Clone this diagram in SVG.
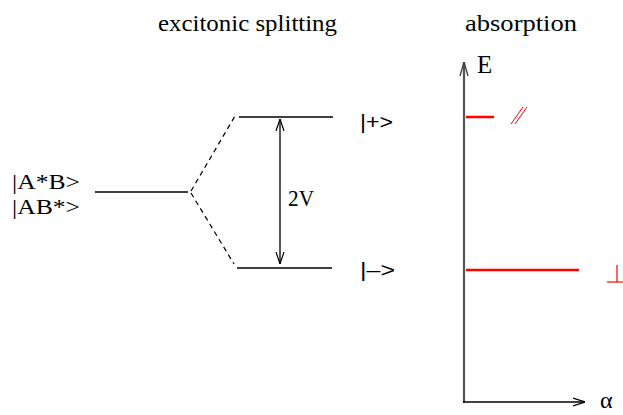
<svg xmlns="http://www.w3.org/2000/svg" width="623" height="415" viewBox="0 0 623 415">
<style>
.serif{font-family:"Liberation Serif","Times New Roman","DejaVu Serif",serif;fill:#000}
.sans{font-family:"Liberation Sans",Arial,"DejaVu Sans",sans-serif;fill:#000}
.lvl{stroke:#000;stroke-width:1.3;fill:none}
.dash{stroke:#000;stroke-width:1.2;stroke-dasharray:5 4;fill:none}
.red{stroke:#ff0000;fill:none}
</style>
<defs>
<marker id="vhead" viewBox="0 0 12 10" refX="12" refY="5" markerWidth="12" markerHeight="10" markerUnits="userSpaceOnUse" orient="auto-start-reverse">
<path d="M0,1 L12,5 L0,9" fill="none" stroke="#000" stroke-width="1.2"/>
</marker>
<marker id="ghead" viewBox="0 0 14 10" refX="14" refY="5" markerWidth="14" markerHeight="10" markerUnits="userSpaceOnUse" orient="auto">
<path d="M0,1 L14,5 L0,9" fill="none" stroke="#444" stroke-width="1.4"/>
</marker>
</defs>
<g id="titles">
<text class="serif" x="158" y="31" font-size="24" textLength="179" lengthAdjust="spacingAndGlyphs">excitonic splitting</text>
<text class="serif" x="465" y="31" font-size="24" textLength="112" lengthAdjust="spacingAndGlyphs">absorption</text>
</g>
<g id="ground">
<line class="lvl" x1="95" y1="192" x2="188" y2="192"/>
<text class="serif" x="12" y="189" font-size="22" textLength="68" lengthAdjust="spacingAndGlyphs">|A*B&gt;</text>
<text class="serif" x="12" y="214" font-size="22" textLength="68" lengthAdjust="spacingAndGlyphs">|AB*&gt;</text>
</g>
<g id="upper">
<line class="lvl" x1="239" y1="117" x2="333" y2="117"/>
<text class="sans" x="360" y="129" font-size="21" textLength="33" lengthAdjust="spacingAndGlyphs">|+&gt;</text>
</g>
<g id="lower">
<line class="lvl" x1="237" y1="268" x2="332" y2="268"/>
<text class="sans" x="360" y="277" font-size="21" textLength="35" lengthAdjust="spacingAndGlyphs">|–&gt;</text>
</g>
<g id="connectors">
<line class="dash" x1="191" y1="191" x2="235" y2="116"/>
<line class="dash" x1="191" y1="193" x2="234" y2="264"/>
<line x1="280" y1="119" x2="280" y2="264" stroke="#000" stroke-width="1.3" marker-start="url(#vhead)" marker-end="url(#vhead)"/>
</g>
<g id="splitting-label">
<text class="serif" x="288" y="206" font-size="23" textLength="26" lengthAdjust="spacingAndGlyphs">2V</text>
</g>
<g id="axes">
<line x1="464" y1="403" x2="464" y2="62" stroke="#555" stroke-width="2.2" marker-end="url(#ghead)"/>
<line x1="463" y1="402" x2="585" y2="402" stroke="#000" stroke-width="1.3" marker-end="url(#vhead)"/>
<text class="serif" x="477" y="73" font-size="25">E</text>
<text class="serif" x="600" y="408" font-size="24">α</text>
</g>
<g id="parallel">
<line class="red" x1="466" y1="117" x2="494" y2="117" stroke-width="2.5"/>
<line class="red" x1="511" y1="124" x2="523" y2="107" stroke-width="1"/>
<line class="red" x1="515" y1="124" x2="527" y2="107" stroke-width="1"/>
</g>
<g id="perpendicular">
<line class="red" x1="466" y1="270" x2="579" y2="270" stroke-width="2.5"/>
<line class="red" x1="617" y1="265" x2="617" y2="282" stroke-width="1.2"/>
<line class="red" x1="607" y1="282" x2="623" y2="282" stroke-width="1.2"/>
</g>
</svg>
